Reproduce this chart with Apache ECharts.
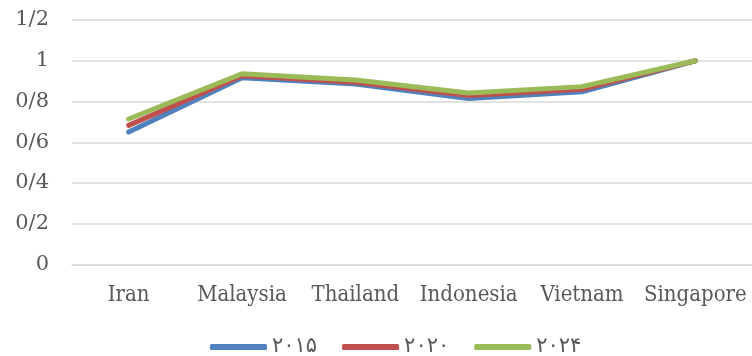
<!DOCTYPE html>
<html>
<head>
<meta charset="utf-8">
<script src="https://cdn.jsdelivr.net/npm/echarts@6/dist/echarts.min.js"></script>
<style>
  html, body { margin: 0; padding: 0; background: #fff; }
  #chart { width: 752px; height: 356px; }
</style>
</head>
<body>
<div id="chart"></div>
<script>
// Countries along the horizontal axis
const countries = ['Iran', 'Malaysia', 'Thailand', 'Indonesia', 'Vietnam', 'Singapore'];

// Index values per year
const values2015 = [0.65, 0.917, 0.886, 0.815, 0.848, 1.0];
const values2020 = [0.683, 0.926, 0.895, 0.829, 0.86, 1.0];
const values2024 = [0.714, 0.936, 0.905, 0.842, 0.873, 1.0];

// Series names (Persian digits) and vertical tick labels (Persian decimal separator)
const seriesNames = ['۲۰۱۵', '۲۰۲۰', '۲۰۲۴'];
const yTickLabels = ['0', '0/2', '0/4', '0/6', '0/8', '1', '1/2'];

const colors = ['#4F81BD', '#C0504D', '#9BBB59'];
const labelFont = '"DejaVu Serif Condensed", "DejaVu Serif", serif';
const numberFont = '"DejaVu Serif", serif';

const chart = echarts.init(document.getElementById('chart'), null, { renderer: 'canvas' });

const makeSeries = (name, data, color) => ({
  name,
  type: 'line',
  data,
  symbol: 'none',
  lineStyle: { color, width: 5, cap: 'round', join: 'round' },
  itemStyle: { color },
  emphasis: { disabled: true },
  animation: false
});

chart.setOption({
  animation: false,
  grid: { left: 72, top: 20, width: 685, height: 244.5 },
  xAxis: {
    type: 'category',
    data: countries,
    boundaryGap: true,
    axisLine: { show: true, lineStyle: { color: '#D9D9D9', width: 1.5 } },
    axisTick: { show: false },
    axisLabel: {
      color: '#595959',
      fontFamily: labelFont,
      fontSize: 22,
      margin: 20,
      interval: 0
    }
  },
  yAxis: {
    type: 'value',
    min: 0,
    max: 1.2,
    interval: 0.2,
    axisLine: { show: false },
    axisTick: { show: false },
    splitLine: { lineStyle: { color: '#D9D9D9', width: 1.5 } },
    axisLabel: {
      color: '#595959',
      fontFamily: numberFont,
      fontSize: 21,
      margin: 23,
      formatter: (v) => yTickLabels[Math.round(v / 0.2)]
    }
  },
  legend: {
    top: 334,
    left: 210,
    padding: 0,
    itemWidth: 57,
    itemHeight: 6,
    itemGap: 25,
    icon: 'roundRect',
    textStyle: { color: '#595959', fontFamily: '"DejaVu Sans", sans-serif', fontSize: 21, lineHeight: 26 },
    data: seriesNames.map((n, i) => ({ name: n, itemStyle: { color: colors[i] } }))
  },
  series: [
    makeSeries(seriesNames[0], values2015, colors[0]),
    makeSeries(seriesNames[1], values2020, colors[1]),
    makeSeries(seriesNames[2], values2024, colors[2])
  ]
});
</script>
</body>
</html>
